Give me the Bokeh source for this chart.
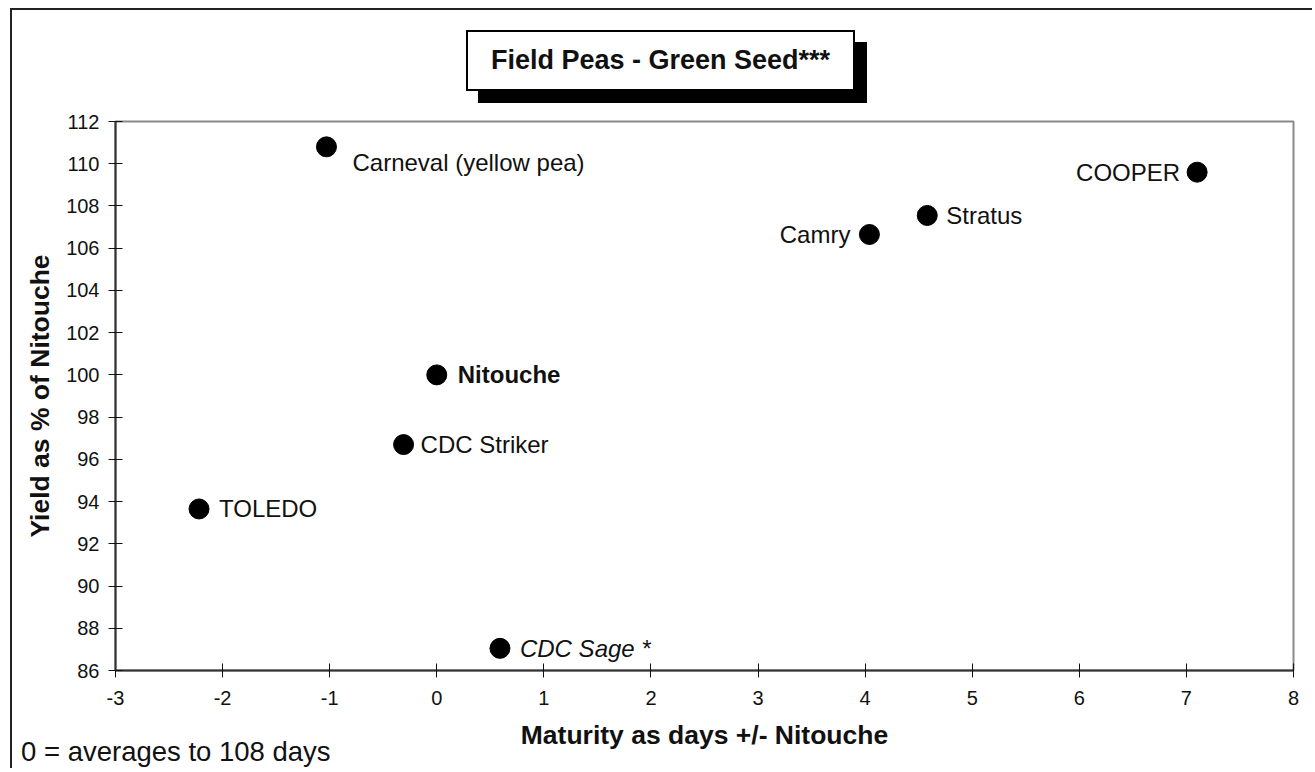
from bokeh.plotting import figure
from bokeh.models import FixedTicker, ColumnDataSource, Range1d, PrintfTickFormatter, Div
from bokeh.layouts import column
from bokeh.core.properties import value
from bokeh.embed import file_html
from bokeh.resources import INLINE

# ---- data ----
varieties = ["Carneval (yellow pea)", "COOPER", "Stratus", "Camry",
             "Nitouche", "CDC Striker", "TOLEDO", "CDC Sage *"]
maturity = [-1.03, 7.10, 4.58, 4.04, 0.0, -0.31, -2.22, 0.59]
yield_pct = [110.8, 109.6, 107.55, 106.65, 100.0, 96.7, 93.65, 87.05]

x_ticks = [-3, -2, -1, 0, 1, 2, 3, 4, 5, 6, 7, 8]
y_ticks = [86, 88, 90, 92, 94, 96, 98, 100, 102, 104, 106, 108, 110, 112]

title_text = "Field Peas - Green Seed***"
x_title = "Maturity as days +/- Nitouche"
y_title = "Yield as % of Nitouche"
note_text = "0 = averages to 108 days"

FONT = "Liberation Sans"
CSS_FONT = "font-family:'Liberation Sans', Arial, sans-serif;"

# label placement styles (screen offsets)
label_style = {
    "Carneval (yellow pea)": dict(dx=26, dy=16, align="left", style="normal"),
    "COOPER": dict(dx=-17, dy=0, align="right", style="normal"),
    "Stratus": dict(dx=19, dy=0, align="left", style="normal"),
    "Camry": dict(dx=-19, dy=0, align="right", style="normal"),
    "Nitouche": dict(dx=21, dy=0, align="left", style="bold"),
    "CDC Striker": dict(dx=17, dy=0, align="left", style="normal"),
    "TOLEDO": dict(dx=20, dy=0, align="left", style="normal"),
    "CDC Sage *": dict(dx=20, dy=0, align="left", style="italic"),
}

title_html = (
    '<div style="margin-left:454px; margin-top:20px; width:389px; height:61px; '
    'box-sizing:border-box; border:2px solid #000; background:#fff; '
    'box-shadow:12px 12px 0 #000; ' + CSS_FONT + ' font-weight:bold; '
    'font-size:27px; color:#111; text-align:center; line-height:57px; '
    'white-space:nowrap;">' + title_text + '</div>'
)
title_div = Div(text=title_html, width=1300, height=100, margin=0)

p = figure(width=1300, height=650, output_backend="svg", toolbar_location=None,
           x_range=Range1d(x_ticks[0], x_ticks[-1]),
           y_range=Range1d(y_ticks[0], y_ticks[-1]),
           min_border_left=103, min_border_top=11, min_border_right=19,
           min_border_bottom=90, margin=0)

p.xgrid.visible = False
p.ygrid.visible = False
p.outline_line_color = "#8a8a8a"
p.outline_line_width = 2

for ax, ticks in ((p.xaxis[0], x_ticks), (p.yaxis[0], y_ticks)):
    ax.ticker = FixedTicker(ticks=ticks)
    ax.formatter = PrintfTickFormatter(format="%d")
    ax.axis_line_color = "#333333"
    ax.axis_line_width = 2
    ax.major_tick_line_color = "#111111"
    ax.major_tick_in = 7
    ax.major_tick_out = 7
    ax.minor_tick_line_color = None
    ax.major_label_text_font = FONT
    ax.major_label_text_font_size = "20px"
    ax.major_label_text_color = "#111111"
    ax.axis_label_text_font = FONT
    ax.axis_label_text_font_size = "26.5px"
    ax.axis_label_text_font_style = "bold"
    ax.axis_label_text_color = "#111111"

p.xaxis.axis_label = x_title
p.yaxis.axis_label = y_title
p.xaxis.major_label_standoff = 13
p.xaxis.axis_label_standoff = 12
p.yaxis.major_label_standoff = 9
p.yaxis.axis_label_standoff = 8

src = ColumnDataSource(dict(x=maturity, y=yield_pct, name=varieties))
p.scatter("x", "y", source=src, size=20, color="black")

for name, xv, yv in zip(varieties, maturity, yield_pct):
    st = label_style[name]
    p.text(x=[xv], y=[yv], text=[name], x_offset=st["dx"], y_offset=st["dy"],
           text_align=st["align"], text_baseline="middle",
           text_font=value(FONT), text_font_size="24px",
           text_font_style=st["style"], text_color="#111111")

note_html = ('<div style="' + CSS_FONT + ' font-size:27.5px; color:#111; '
             'line-height:32px; white-space:nowrap;">' + note_text + '</div>')
note_div = Div(text=note_html, width=420, height=32, margin=(-24, 0, 0, 9))

layout = column(title_div, p, note_div, spacing=0,
                styles={"margin-left": "10px", "margin-top": "8px",
                        "border-left": "2px solid #222",
                        "border-top": "2px solid #222"})

open("out.html", "w").write(file_html(layout, INLINE))
